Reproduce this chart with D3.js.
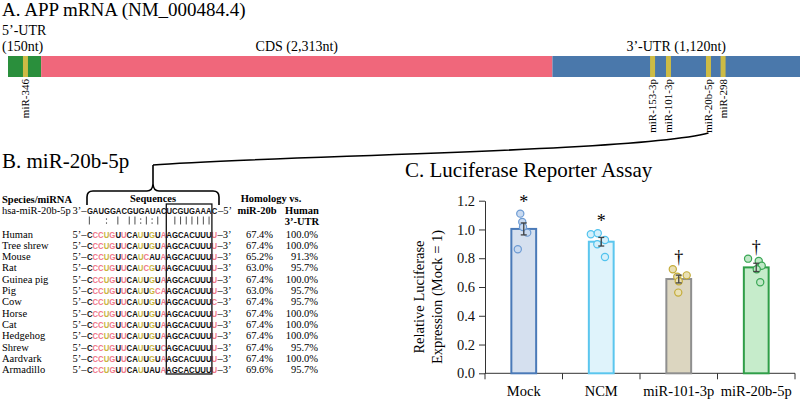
<!DOCTYPE html>
<html>
<head>
<meta charset="utf-8">
<script src="https://cdn.jsdelivr.net/npm/d3@7.9.0/dist/d3.min.js"></script>
<style>
  body { margin: 0; background: #fff; }
  svg { display: block; font-family: 'Liberation Serif', 'Times New Roman', serif; }
</style>
</head>
<body>
<svg width="800" height="400"></svg>
<script>
// A. APP mRNA map
const regionNames = ['5\u2019-UTR', 'CDS', '3\u2019-UTR'];
const regionLengths = [150, 2313, 1120];
const siteNames = ['miR-346', 'miR-153-3p', 'miR-101-3p', 'miR-20b-5p', 'miR-298'];
const sitePositions = [79, 2916, 2988, 3169, 3235]; // nt

// B. miR-20b-5p alignment
const mirnaName = 'hsa-miR-20b-5p';
const mirnaSeq = 'GAUGGACGUGAUACUCGUGAAAC'; // 3' -> 5'
const pairMarks = '|  : | ||:|:|  ||||||| ';
const species = ['Human', 'Tree shrew', 'Mouse', 'Rat', 'Guinea pig', 'Pig', 'Cow',
  'Horse', 'Cat', 'Hedgehog', 'Shrew', 'Aardvark', 'Armadillo'];
const targets = [
  'CCCUGUUCAUUGUAAGCACUUUU', 'CCCUGUUCAUUGUAAGCACUUUU', 'CCCUGUUCAUCAUAAGCACUUUU',
  'CCCUGUUCAUCGUAAGCACUUUU', 'CCCUGUUCAUUGUAAGCACUUUU', 'CCCUGUUCAUUGCAAGCACUUUU',
  'CCCUGUUCAUUGUAAGCACUUUC', 'CCCUGUUCAUUGUAAGCACUUUU', 'CCCUGUUCAUUGUAAGCACUUUU',
  'CCCUGUUCAUUGUAAGCACUUUU', 'CCCUGUUCAUUGUCAGCACUUUU', 'CCCUGUUCAUUGUAAGCACUUUU',
  'CCCUGUUCAUUAUAAGCACUUUU'];
const homMir = [67.4, 67.4, 65.2, 63.0, 67.4, 63.0, 67.4, 67.4, 67.4, 67.4, 67.4, 67.4, 69.6];
const homHuman = [100.0, 100.0, 91.3, 95.7, 100.0, 95.7, 95.7, 100.0, 100.0, 100.0, 95.7, 100.0, 95.7];

// C. luciferase assay
const groups = ['Mock', 'NCM', 'miR-101-3p', 'miR-20b-5p'];
const replicates = [
  [1.11, 1.052, 1.017, 0.978, 0.862],
  [0.967, 0.974, 0.927, 0.897, 0.809],
  [0.723, 0.681, 0.672, 0.640, 0.561],
  [0.797, 0.781, 0.748, 0.723, 0.633]
];
const marks = ['*', '*', '\u2020', '\u2020'];
const yTicks = [0, 0.2, 0.4, 0.6, 0.8, 1.0, 1.2];

const svg = d3.select('svg');
const serif = "'Liberation Serif', 'Times New Roman', serif";
const sans = "'Liberation Sans', Arial, sans-serif";

// ---------- panel A
svg.append('text').attr('x', 2).attr('y', 16).attr('font-size', 19)
  .text('A. APP mRNA (NM_000484.4)');

const total = d3.sum(regionLengths);
const starts = [0, ...d3.cumsum(regionLengths)].slice(0, -1);
const xA = d3.scaleLinear().domain([0, total]).range([8, 800]);
const regionColors = ['#2a8f3c', '#f0677b', '#4a78ab'];

svg.append('g').selectAll('rect').data(regionLengths).join('rect')
  .attr('x', (d, i) => xA(starts[i]))
  .attr('y', 56)
  .attr('width', (d, i) => xA(starts[i] + d) - xA(starts[i]))
  .attr('height', 21)
  .attr('fill', (d, i) => regionColors[i]);

svg.append('text').attr('x', 2).attr('y', 35).attr('font-size', 14).text(regionNames[0]);
svg.append('text').attr('x', 2).attr('y', 51).attr('font-size', 14)
  .text(`(${regionLengths[0]}nt)`);
regionNames.slice(1).forEach((name, j) => {
  const i = j + 1;
  svg.append('text')
    .attr('x', xA(starts[i] + regionLengths[i] / 2)).attr('y', 51)
    .attr('text-anchor', 'middle').attr('font-size', 14)
    .text(`${name} (${d3.format(',')(regionLengths[i])}nt)`);
});

svg.append('g').selectAll('rect').data(sitePositions).join('rect')
  .attr('x', d => xA(d) - 2.5).attr('y', 56)
  .attr('width', 5).attr('height', 21)
  .attr('fill', '#cdbb45');

svg.append('g').selectAll('text').data(siteNames).join('text')
  .attr('transform', (d, i) => `translate(${xA(sitePositions[i])},79) rotate(-90)`)
  .attr('dy', '0.33em')
  .attr('text-anchor', 'end').attr('font-size', 11)
  .text(d => d);

// link from the miR-20b-5p site down to panel B
const siteX = xA(sitePositions[3]);
svg.append('path')
  .attr('d', `M153,165 C260,156 ${siteX - 70},152 ${siteX},133`)
  .attr('fill', 'none').attr('stroke', '#000').attr('stroke-width', 1.6);

// ---------- panel B
svg.append('text').attr('x', 2).attr('y', 168).attr('font-size', 21).text('B. miR-20b-5p');

const xs = d3.scaleBand().domain(d3.range(mirnaSeq.length)).range([86.5, 217.6]);
const cx = i => xs(i) + xs.bandwidth() / 2;

// brace over the sequences
svg.append('path')
  .attr('d', 'M87,205 L87,197 Q87,191 93,191 L147,191 Q152.5,191 153,184 L153,165 ' +
    'M153,184 Q153.5,191 159,191 L213,191 Q219,191 219,197 L219,205')
  .attr('fill', 'none').attr('stroke', '#000').attr('stroke-width', 1.6);

const rowY = d3.scaleLinear().domain([0, 1]).range([237.5, 248.8]);
const fs = 10.5;

// a sequence row as one text, squeezed to the alignment grid
function letters(g, seq, yy, color) {
  const t = g.append('text')
    .attr('x', xs(0) + 0.4).attr('y', yy)
    .attr('textLength', xs.step() * seq.length - 0.8).attr('lengthAdjust', 'spacingAndGlyphs')
    .attr('font-family', sans).attr('font-weight', 'bold').attr('font-size', 9.8);
  if (typeof color === 'string') {
    t.attr('fill', color).text(seq);
  } else {
    t.selectAll('tspan').data(seq.split('')).join('tspan')
      .attr('fill', color)
      .text(d => d);
  }
}

const head = svg.append('g').attr('font-size', fs).attr('font-weight', 'bold');
head.append('text').attr('x', 2).attr('y', 203).text('Species/miRNA');
head.append('text').attr('x', 153).attr('y', 202).attr('text-anchor', 'middle').text('Sequences');
head.append('text').attr('x', 271).attr('y', 201.5).attr('text-anchor', 'middle').text('Homology vs.');
head.append('text').attr('x', 257).attr('y', 214).attr('text-anchor', 'middle').text('miR-20b');
head.append('text').attr('x', 302).attr('y', 214).attr('text-anchor', 'middle').text('Human');
head.append('text').attr('x', 302).attr('y', 225).attr('text-anchor', 'middle').text('3\u2019-UTR');

// miRNA row
svg.append('text').attr('x', 2).attr('y', 213.5).attr('font-size', fs).text(mirnaName);
svg.append('text').attr('x', xs(0)).attr('y', 213.5).attr('font-size', fs)
  .attr('text-anchor', 'end').text('3\u2019\u2013');
svg.append('text').attr('x', xs(mirnaSeq.length - 1) + xs.bandwidth() + 0.3).attr('y', 213.5)
  .attr('font-size', fs).text('\u20135\u2019');
letters(svg, mirnaSeq, 213.5, '#111');

// pairing marks: '|' Watson-Crick, ':' wobble
const pm = svg.append('g').attr('fill', '#222').attr('stroke', '#222');
pairMarks.split('').forEach((m, i) => {
  if (m === '|') {
    pm.append('line').attr('x1', cx(i)).attr('x2', cx(i))
      .attr('y1', 216.5).attr('y2', 224.5).attr('stroke-width', 0.8);
  } else if (m === ':') {
    [218.5, 222.5].forEach(yy =>
      pm.append('rect').attr('x', cx(i) - 0.5).attr('y', yy).attr('width', 1.1)
        .attr('height', 1.1).attr('stroke', 'none'));
  }
});

// base-pair colouring: Watson-Crick black, G:U wobble yellow, mismatch pink
const wc = new Set(['GC', 'CG', 'AU', 'UA']);
const wobble = new Set(['GU', 'UG']);
const pairColor = (m, t) => wc.has(m + t) ? '#111' : wobble.has(m + t) ? '#c8b53e' : '#f0788a';

species.forEach((name, r) => {
  const y = rowY(r);
  svg.append('text').attr('x', 2).attr('y', y).attr('font-size', fs).text(name);
  svg.append('text').attr('x', xs(0)).attr('y', y).attr('font-size', fs)
    .attr('text-anchor', 'end').text('5\u2019\u2013');
  svg.append('text').attr('x', xs(mirnaSeq.length - 1) + xs.bandwidth()).attr('y', y)
    .attr('font-size', fs).text('\u20133\u2019');
  letters(svg, targets[r], y, (d, i) => pairColor(mirnaSeq[i], d));
  svg.append('text').attr('x', 273).attr('y', y).attr('font-size', fs)
    .attr('text-anchor', 'end').text(homMir[r].toFixed(1) + '%');
  svg.append('text').attr('x', 318).attr('y', y).attr('font-size', fs)
    .attr('text-anchor', 'end').text(homHuman[r].toFixed(1) + '%');
});

// seed box
svg.append('rect')
  .attr('x', xs(14)).attr('y', 204)
  .attr('width', xs(22) - xs(14)).attr('height', 170)
  .attr('fill', 'none').attr('stroke', '#111').attr('stroke-width', 1.3);

// ---------- panel C
svg.append('text').attr('x', 405).attr('y', 177).attr('font-size', 21)
  .text('C. Luciferase Reporter Assay');

const y = d3.scaleLinear().domain([0, 1.2]).range([373.3, 200.7]);
const x = d3.scaleBand().domain(groups).range([485, 795]).paddingInner(0.68).paddingOuter(0.34);

const fills = ['#d5e0ef', '#dff3fb', '#dcd6c0', '#c6eccb'];
const strokes = ['#4a7ab8', '#5bc6ee', '#8f8f8f', '#2f9e48'];
const dotStroke = ['#6d9bd3', '#52c3ee', '#c4ac3a', '#3aa655'];
const dotFill = ['#c9daf0', '#d4f0fb', '#e9e0b5', '#bfe8c6'];
// horizontal spread of the replicate dots, in bar widths
const jitter = [
  [-0.14, -0.06, -0.03, 0.14, -0.24],
  [-0.42, -0.14, 0.15, -0.16, 0.15],
  [-0.24, 0.32, -0.06, 0, -0.02],
  [-0.33, 0.1, 0.22, 0.02, 0.16]
];

const stats = replicates.map(v => ({
  mean: d3.mean(v),
  sem: d3.deviation(v) / Math.sqrt(v.length),
  max: d3.max(v)
}));

const yAxis = svg.append('g').attr('transform', 'translate(485,0)')
  .call(d3.axisLeft(y).tickValues(yTicks).tickFormat(d3.format('.1f'))
    .tickSize(6).tickSizeOuter(0).tickPadding(4));
yAxis.selectAll('text').attr('font-size', 14.5).attr('font-family', serif).attr('fill', '#111');
yAxis.selectAll('line, path').attr('stroke', '#333');

// x axis with ticks at the category boundaries
svg.append('line').attr('x1', 485).attr('x2', 795)
  .attr('y1', y(0)).attr('y2', y(0)).attr('stroke', '#333');
svg.append('g').selectAll('line').data(d3.range(groups.length + 1)).join('line')
  .attr('x1', i => 485 + i * x.step()).attr('x2', i => 485 + i * x.step())
  .attr('y1', y(0)).attr('y2', y(0) + 6).attr('stroke', '#333');
svg.append('g').selectAll('text').data(groups).join('text')
  .attr('x', d => x(d) + x.bandwidth() / 2).attr('y', 396)
  .attr('text-anchor', 'middle').attr('font-size', 14.5).text(d => d);

svg.append('text').attr('transform', 'translate(419,297) rotate(-90)')
  .attr('dy', '0.35em').attr('text-anchor', 'middle').attr('font-size', 14.5)
  .text('Relative Luciferase');
svg.append('text').attr('transform', 'translate(437,297) rotate(-90)')
  .attr('dy', '0.35em').attr('text-anchor', 'middle').attr('font-size', 14.5)
  .text('Expression (Mock = 1)');

svg.append('g').selectAll('rect').data(groups).join('rect')
  .attr('x', d => x(d)).attr('width', x.bandwidth())
  .attr('y', (d, i) => y(stats[i].mean))
  .attr('height', (d, i) => y(0) - y(stats[i].mean))
  .attr('fill', (d, i) => fills[i])
  .attr('stroke', (d, i) => strokes[i]).attr('stroke-width', 2);

groups.forEach((g, i) => {
  const c = x(g) + x.bandwidth() / 2;
  svg.append('g').selectAll('circle').data(replicates[i]).join('circle')
    .attr('cx', (d, k) => c + jitter[i][k] * x.bandwidth())
    .attr('cy', d => y(d)).attr('r', 3.6)
    .attr('fill', dotFill[i]).attr('stroke', dotStroke[i]).attr('stroke-width', 1.2);

  const s = stats[i];
  const eb = svg.append('g').attr('stroke', '#444').attr('stroke-width', 1.3);
  eb.append('line').attr('x1', c).attr('x2', c).attr('y1', y(s.mean - s.sem)).attr('y2', y(s.mean + s.sem));
  [s.mean - s.sem, s.mean + s.sem].forEach(v =>
    eb.append('line').attr('x1', c - 3).attr('x2', c + 3).attr('y1', y(v)).attr('y2', y(v)));

  svg.append('text').attr('x', c).attr('y', y(s.max) - 6)
    .attr('text-anchor', 'middle').attr('font-size', 18).text(marks[i]);
});
</script>
</body>
</html>
